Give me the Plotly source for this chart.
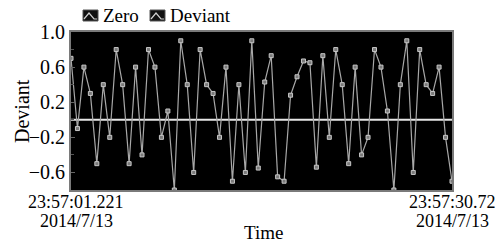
import plotly.graph_objects as go
import pandas as pd

# ---- data ----
start_time = "2014-07-13 23:57:01.221"
interval_ms = 500
deviant = [0.70, -0.10, 0.60, 0.30, -0.50, 0.40, -0.20, 0.80, 0.40, -0.50,
           0.60, -0.40, 0.80, 0.60, -0.20, 0.10, -0.80, 0.90, 0.40, -0.60,
           0.80, 0.40, 0.30, -0.20, 0.60, -0.70, 0.40, -0.60, 0.90, -0.55,
           0.43, 0.73, -0.65, -0.70, 0.28, 0.49, 0.67, 0.65, -0.54, 0.73,
           -0.20, 0.80, 0.40, -0.50, 0.60, -0.40, -0.20, 0.80, 0.60, 0.10,
           -0.80, 0.40, 0.90, -0.60, 0.80, 0.40, 0.30, 0.60, -0.20, -0.70]
zero = [0.0] * len(deviant)
y_tickvals = [1.0, 0.6, 0.2, -0.2, -0.6]
x_tick_time = ["23:57:01.221", "23:57:30.72"]
x_tick_date = ["2014/7/13", "2014/7/13"]

times = pd.date_range(start=start_time, periods=len(deviant),
                      freq=pd.Timedelta(milliseconds=interval_ms))

FONT = "Liberation Serif"
W, H = 500, 244
L, R, T, B = 71, 48, 32, 54
PW, PH = W - L - R, H - T - B

def px(x):
    return (x - L) / PW

def py(y):
    return (H - B - y) / PH

fig = go.Figure()
fig.add_trace(go.Scatter(x=times, y=zero, mode="lines", name="Zero",
                         line=dict(color="#e6e6e6", width=2),
                         showlegend=False))
fig.add_trace(go.Scatter(x=times, y=deviant, mode="lines+markers", name="Deviant",
                         line=dict(color="#a8a8a8", width=1.2),
                         marker=dict(symbol="square", size=4, color="#7a7a7a",
                                     line=dict(color="#c8c8c8", width=1)),
                         showlegend=False))

# custom legend (icons + text)
shapes = []
annotations = []
for x0, label, tx in [(83, "Zero", 101), (150, "Deviant", 168)]:
    shapes.append(dict(type="rect", xref="paper", yref="paper",
                       x0=px(x0), x1=px(x0 + 15), y0=py(21), y1=py(10),
                       fillcolor="#111111", line=dict(color="#555555", width=1)))
    path = "M {a},{b} L {c},{d} L {e},{f} L {g},{h}".format(
        a=px(x0 + 1), b=py(19), c=px(x0 + 6), d=py(13),
        e=px(x0 + 11), f=py(19), g=px(x0 + 14), h=py(19))
    shapes.append(dict(type="path", xref="paper", yref="paper", path=path,
                       line=dict(color="#d0d0d0", width=1.2)))
    annotations.append(dict(text=label, xref="paper", yref="paper",
                            x=px(tx), y=py(16), xanchor="left", yanchor="middle",
                            showarrow=False,
                            font=dict(family=FONT, size=19, color="#000")))

# x tick labels (two lines, tight spacing)
for i, (tt, td) in enumerate(zip(x_tick_time, x_tick_date)):
    xv = times[0] if i == 0 else times[-1]
    shift = 5 if i == 0 else 0
    annotations.append(dict(text=tt, xref="x", yref="paper", x=xv, y=py(202),
                            xanchor="center", yanchor="middle", xshift=shift,
                            showarrow=False,
                            font=dict(family=FONT, size=18, color="#000")))
    annotations.append(dict(text=td, xref="x", yref="paper", x=xv, y=py(221),
                            xanchor="center", yanchor="middle", xshift=shift,
                            showarrow=False,
                            font=dict(family=FONT, size=18, color="#000")))

annotations.append(dict(text="Time", xref="paper", yref="paper",
                        x=px(263), y=py(232), xanchor="center", yanchor="middle",
                        showarrow=False, font=dict(family=FONT, size=19, color="#000")))
annotations.append(dict(text="Deviant", xref="paper", yref="paper",
                        x=px(22), y=0.5, xanchor="center", yanchor="middle",
                        textangle=-90, showarrow=False,
                        font=dict(family=FONT, size=20, color="#000")))

fig.update_layout(
    width=W, height=H,
    margin=dict(l=L, r=R, t=T, b=B, pad=0),
    paper_bgcolor="white", plot_bgcolor="black",
    font=dict(family=FONT, color="#000"),
    shapes=shapes, annotations=annotations,
    showlegend=False,
)
fig.update_xaxes(
    type="date", range=[times[0], times[-1]],
    showticklabels=False,
    showgrid=False, zeroline=False,
    showline=True, mirror=True, linecolor="#7a7a7a", linewidth=2,
    ticks="", automargin=False,
)
fig.update_yaxes(
    range=[-0.8, 1.0], tickvals=y_tickvals, tickformat=".1f",
    tickfont=dict(family=FONT, size=20, color="#000"),
    showgrid=False, zeroline=False,
    showline=True, mirror=True, linecolor="#7a7a7a", linewidth=2,
    ticks="inside", ticklen=4, tickcolor="#666666", tickwidth=1,
    minor=dict(tickvals=[0.8, 0.4, 0.0, -0.4, -0.8], ticks="inside",
               ticklen=3, tickcolor="#555555"),
    automargin=False,
)

fig.write_html("out.html", config={"displayModeBar": False},
               post_script="document.body.style.margin='0';document.body.style.overflow='hidden';")
